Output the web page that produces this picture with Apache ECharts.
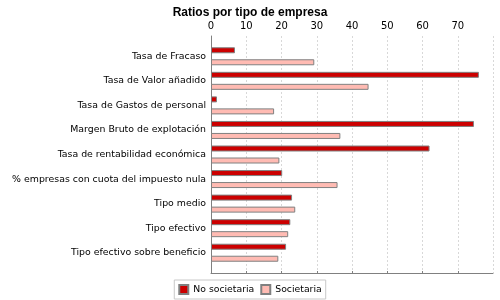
<!DOCTYPE html>
<html>
<head>
<meta charset="utf-8">
<script src="https://cdn.jsdelivr.net/npm/echarts@6/dist/echarts.min.js"></script>
<style>
  html, body { margin: 0; padding: 0; background: #fff; }
  #chart { width: 500px; height: 300px; }
</style>
</head>
<body>
<div id="chart"></div>
<script>
// ratios por tipo de empresa
var categorias = [
    'Tasa de Fracaso',
    'Tasa de Valor añadido',
    'Tasa de Gastos de personal',
    'Margen Bruto de explotación',
    'Tasa de rentabilidad económica',
    '% empresas con cuota del impuesto nula',
    'Tipo medio',
    'Tipo efectivo',
    'Tipo efectivo sobre beneficio'
];
var noSocietaria = [6.8, 76.0, 1.7, 74.6, 62.0, 20.2, 23.0, 22.5, 21.3];
var societaria = [29.3, 44.7, 17.9, 36.7, 19.4, 35.9, 23.9, 21.9, 19.1];
var ejeMin = 0, ejeMax = 80, ejeInterval = 10;

var font = 'DejaVu Sans';
var chart = echarts.init(document.getElementById('chart'));

var option = {
    animation: false,
    title: {
        text: 'Ratios por tipo de empresa',
        left: 'center',
        top: 2,
        textStyle: { fontFamily: 'Liberation Sans', fontSize: 12, fontWeight: 'bold', color: '#000' }
    },
    legend: {
        bottom: 1,
        left: 'center',
        data: ['No societaria', 'Societaria'],
        icon: 'rect',
        itemWidth: 9,
        itemHeight: 9,
        itemGap: 6,
        padding: [4, 4],
        borderColor: '#c8c8c8',
        borderWidth: 1,
        textStyle: { fontFamily: font, fontSize: 9.3, color: '#000' }
    },
    grid: [
        // marco exterior: eje superior, rejilla y eje izquierdo
        { left: 211, right: 7, top: 36, bottom: 27 },
        // barras
        { left: 211, right: 7, top: 44, bottom: 35 }
    ],
    xAxis: [{
        gridIndex: 0,
        type: 'value',
        position: 'top',
        min: ejeMin,
        max: ejeMax,
        interval: ejeInterval,
        axisLine: { show: true, lineStyle: { color: '#808080' } },
        axisTick: { show: true, length: 2, lineStyle: { color: '#808080' } },
        axisLabel: { margin: 5, fontFamily: font, fontSize: 10, color: '#000', showMaxLabel: false },
        splitLine: { show: true, lineStyle: { color: '#d8d8d8', type: [2, 2] } }
    }, {
        gridIndex: 1,
        type: 'value',
        min: ejeMin,
        max: ejeMax,
        show: false
    }],
    yAxis: [{
        gridIndex: 0,
        type: 'value',
        min: 0,
        max: 1,
        axisLine: { show: true, lineStyle: { color: '#808080' } },
        axisTick: { show: false },
        axisLabel: { show: false },
        splitLine: { show: false }
    }, {
        gridIndex: 1,
        type: 'category',
        inverse: true,
        data: categorias,
        axisLine: { show: false },
        axisTick: { show: false },
        axisLabel: { margin: 5, fontFamily: font, fontSize: 9.4, color: '#000' }
    }],
    series: [{
        name: 'No societaria',
        type: 'bar',
        xAxisIndex: 1,
        yAxisIndex: 1,
        data: noSocietaria,
        barWidth: 6,
        barGap: '100%',
        itemStyle: { color: '#cc0000', borderColor: '#808080', borderWidth: 1 }
    }, {
        name: 'Societaria',
        type: 'bar',
        xAxisIndex: 1,
        yAxisIndex: 1,
        data: societaria,
        barWidth: 6,
        barGap: '100%',
        itemStyle: { color: '#ffbbb3', borderColor: '#808080', borderWidth: 1 }
    }]
};

chart.setOption(option);
</script>
</body>
</html>
